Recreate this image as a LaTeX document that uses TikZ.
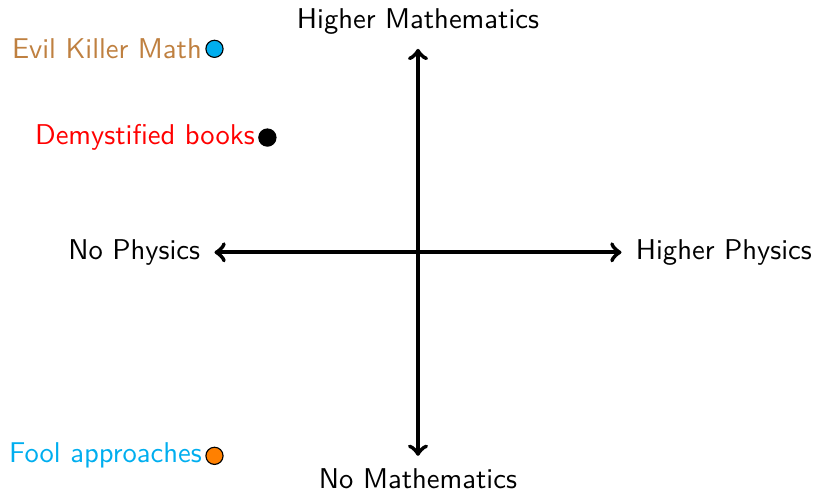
\documentclass[tikz,border=0pt]{standalone}
\usetikzlibrary{positioning}
\definecolor{SkyCyan}{RGB}{0,174,239}
\definecolor{EarthBrown}{rgb}{0.75,0.5,0.25}
\def\a{2.5}

\begin{document}
\begin{tikzpicture}[font=\sffamily,
    dot/.style={circle, draw=black, inner sep=0pt, minimum size=6pt},
    axis/.style={line width=1.5pt, <->}]
\useasboundingbox (-5.135,-2.94) rectangle (4.865,3.1);

% axes
\coordinate (W) at (-\a,0);
\coordinate (E) at (\a,0);
\coordinate (S) at (0,-\a);
\coordinate (N) at (0,\a);
\draw[axis] (W) -- (E);
\draw[axis] (S) -- (N);
\node[left=1.5pt of W] (nophys) {No Physics};
\node[right=1.5pt of E] (hiphys) {Higher Physics};
\node[above=1.5pt of N] (himath) {Higher Mathematics};
\node[below=1pt of S] (nomath) {No Mathematics};

% the books
\foreach \x/\y/\lbl/\c/\f [count=\i] in {%
    -2.5/2.5/{Evil Killer Math}/EarthBrown/SkyCyan,
    -1.85/1.41/{Demystified books}/red/black,
    -2.5/-2.5/{Fool approaches}/SkyCyan/orange}{%
    \node[dot, fill=\f] (p\i) at (\x,\y) {};
    \node[left=0pt of p\i, text=\c, inner sep=1pt] (l\i) {\lbl};
}

\end{tikzpicture}
\end{document}
